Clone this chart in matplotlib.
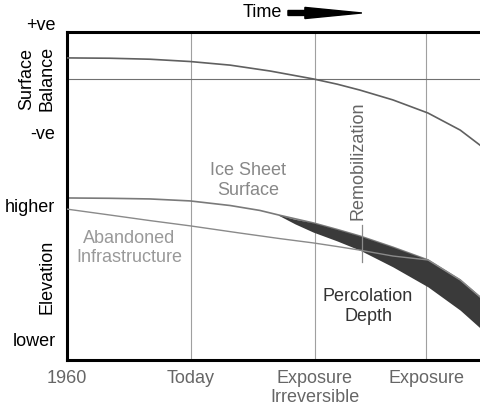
import matplotlib
matplotlib.use("Agg")
import matplotlib.pyplot as plt
import matplotlib.patches as mpatches
import matplotlib.transforms as mtransforms

plt.rcParams["font.family"] = ["Liberation Sans", "DejaVu Sans"]
plt.rcParams["font.size"] = 13

# ── Data (schematic) ─────────────────────────────────────────────────────────

tick_pos = [0, 3, 6, 8.7]
tick_labels = ["1960", "Today", "Exposure\nIrreversible", "Exposure"]

# surface mass balance (upper part of the panel)
t_bal = [0.0, 1.04, 2.01, 2.98, 3.95, 4.92, 5.96, 6.54, 7.09, 7.89, 8.74, 9.52, 10.0]
balance = [9.21, 9.20, 9.17, 9.10, 8.99, 8.81, 8.57, 8.41, 8.23, 7.93, 7.53, 7.01, 6.55]
zero_balance = 8.57

# ice sheet surface elevation
t_surf = [0.0, 1.04, 2.01, 2.98, 3.95, 4.67, 5.16, 5.96, 6.54, 7.09, 7.89, 8.74, 9.52, 10.0]
surface = [4.94, 4.93, 4.91, 4.85, 4.71, 4.56, 4.41, 4.18, 3.98, 3.78, 3.44, 3.05, 2.44, 1.92]

# percolation depth band (top = surface, bottom = percolation depth)
t_perc = [5.11, 5.52, 5.96, 6.54, 7.09, 7.89, 8.74, 9.52, 10.0]
perc_top = [4.42, 4.29, 4.18, 3.98, 3.78, 3.44, 3.05, 2.44, 1.92]
perc_bottom = [4.42, 4.15, 3.90, 3.63, 3.35, 2.84, 2.23, 1.52, 0.98]

# abandoned infrastructure depth
t_infra = [0.0, 1.04, 2.01, 2.98, 4.19, 5.16, 5.96, 6.54, 7.09, 7.89, 8.74, 9.52, 10.0]
infra = [4.60, 4.42, 4.25, 4.09, 3.87, 3.70, 3.57, 3.46, 3.35, 3.17, 3.05, 2.44, 1.92]

# remobilization marker
t_remob = 7.14
remob_span = (2.99, 4.12)

# left-hand qualitative labels
side_labels = ["+ve", "-ve", "higher", "lower"]
side_y = [10.2, 6.86, 4.66, 0.55]

# ── Figure ────────────────────────────────────────────────────────────────────

fig = plt.figure(figsize=(4.8, 4.08), dpi=100)
ax = fig.add_axes([67 / 480, 48 / 408, 413 / 480, 328 / 408])
ax.set_xlim(0, 10)
ax.set_ylim(0, 10)

ax.xaxis.grid(True, color="#a0a0a0", linewidth=0.8)
ax.set_axisbelow(True)
ax.axhline(zero_balance, color="#707070", linewidth=0.8, zorder=1)

ax.plot(t_bal, balance, color="#606060", linewidth=1.2, zorder=3)
ax.plot(t_surf, surface, color="#7a7a7a", linewidth=1.2, zorder=2)
ax.fill_between(t_perc, perc_top, perc_bottom, color="#3a3a3a", linewidth=0, zorder=3)
ax.plot(t_infra, infra, color="#8a8a8a", linewidth=1.0, zorder=4)
ax.plot([t_remob, t_remob], remob_span, color="#8a8a8a", linewidth=0.9, zorder=4)

# spines
for side in ["left", "top", "bottom"]:
    ax.spines[side].set_linewidth(2.2)
    ax.spines[side].set_color("black")
ax.spines["right"].set_visible(False)

ax.set_xticks(tick_pos)
ax.set_xticklabels(tick_labels, color="#666666")
ax.tick_params(axis="x", length=0, pad=7)
ax.set_yticks([])

# side labels
trans = mtransforms.blended_transform_factory(ax.transAxes, ax.transData)
for lab, yv in zip(side_labels, side_y):
    ax.text(-0.028, yv, lab, transform=trans, ha="right", va="center", clip_on=False)
ax.text(-0.073, 8.57, "Surface\nBalance", transform=trans, rotation=90,
        ha="center", va="center", multialignment="center", linespacing=1.25)
ax.text(-0.048, 2.53, "Elevation", transform=trans, rotation=90, ha="center", va="center")

# annotations inside
ax.text(4.38, 5.47, "Ice Sheet\nSurface", color="#888888", ha="center", va="center",
        multialignment="center")
ax.text(1.50, 3.41, "Abandoned\nInfrastructure", color="#999999", ha="center", va="center",
        multialignment="center")
ax.text(7.29, 1.63, "Percolation\nDepth", color="#333333", ha="center", va="center",
        multialignment="center")
ax.text(7.05, 6.07, "Remobilization", color="#666666", rotation=90, ha="center", va="center")

# time arrow
ax.text(0.52, 1.058, "Time", transform=ax.transAxes, ha="right", va="center", clip_on=False)
arrow = mpatches.FancyArrow(0.535, 1.058, 0.179, 0, width=0.0152, head_width=0.034,
                            head_length=0.138, length_includes_head=True,
                            transform=ax.transAxes, color="black", clip_on=False)
ax.add_patch(arrow)

fig.savefig("out.png", dpi=100)
